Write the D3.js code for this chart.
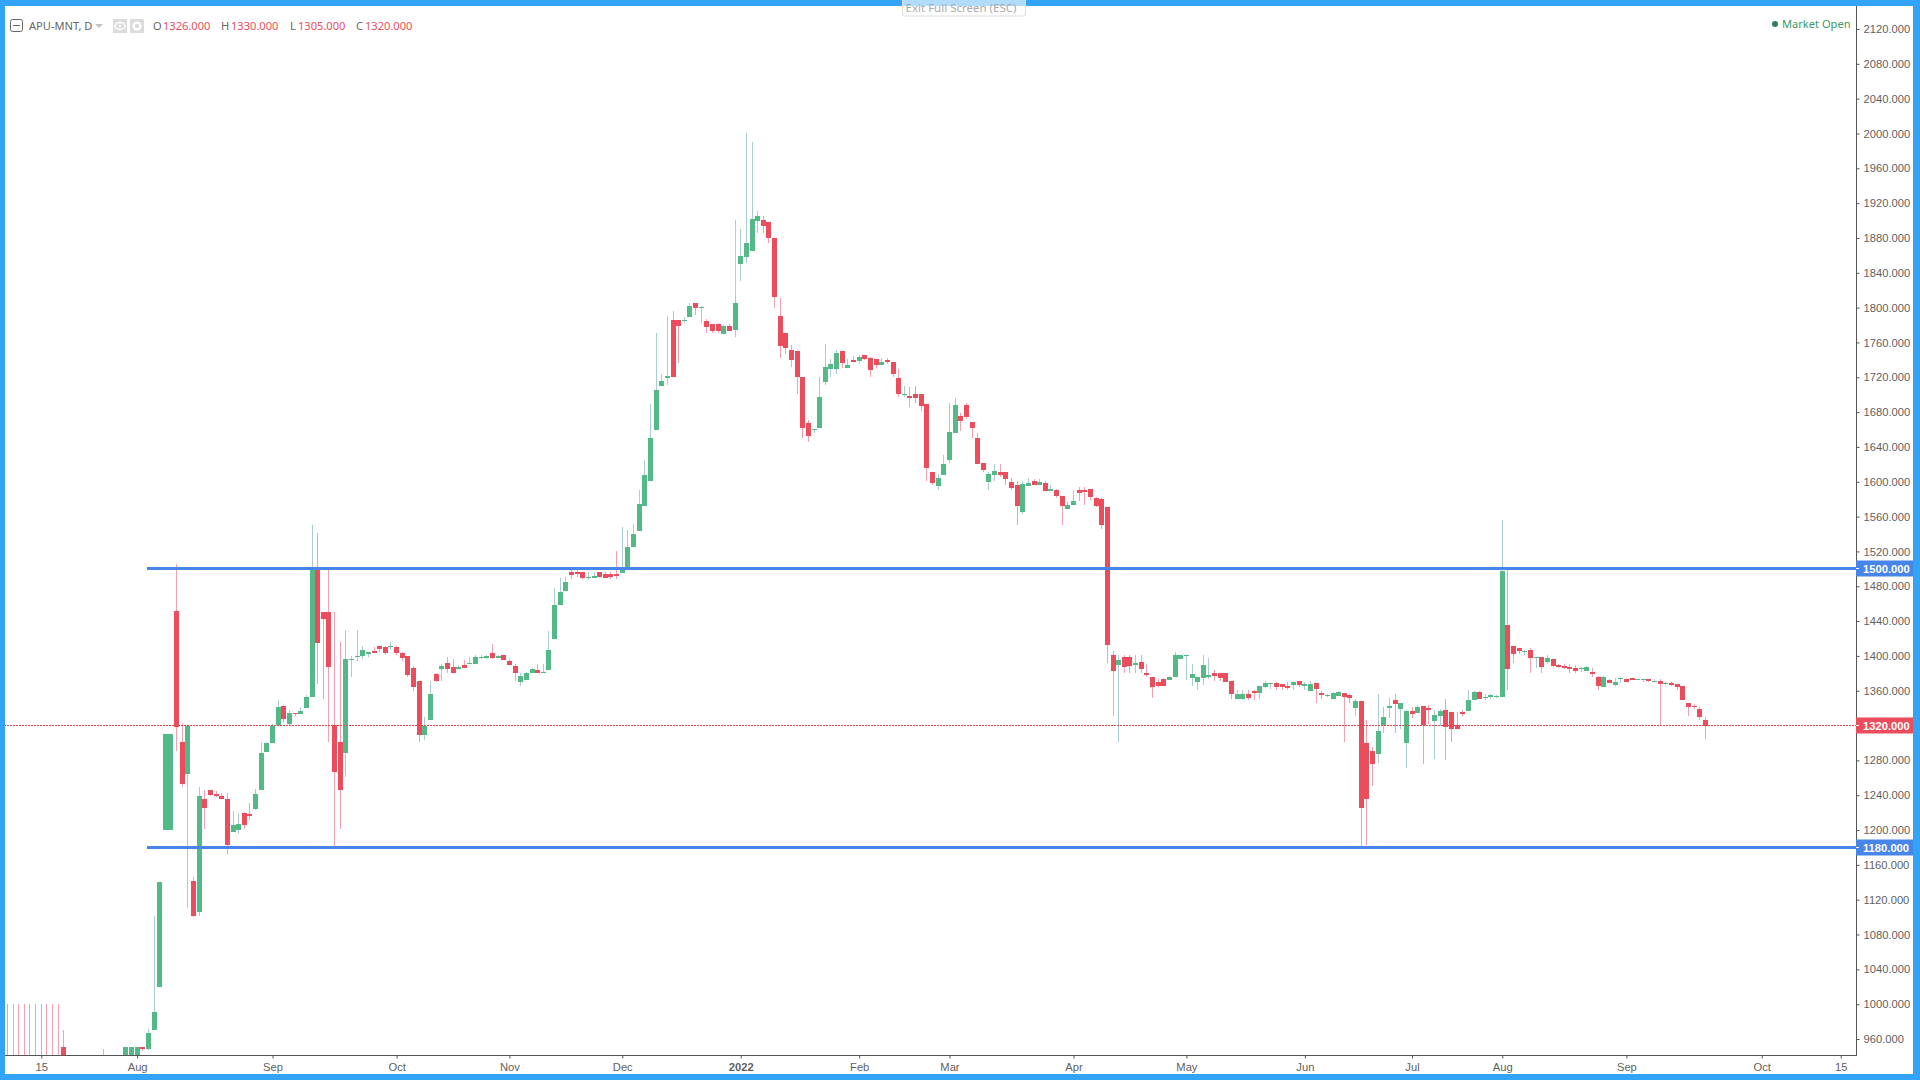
<!DOCTYPE html>
<html><head><meta charset="utf-8">
<script src="https://cdn.jsdelivr.net/npm/d3@7"></script>
<style>html,body{margin:0;padding:0;background:#fff;overflow:hidden}svg{display:block}</style>
</head><body><svg id="c" width="1920" height="1080"></svg>
<script>
const opens=[
900,900,900,900,900,900,900,900,900,900,
950.8,930,930,930,930,930,930,930,930,930,
930,930,930,930,951,948.5,970.3,1020,1200,1200,
1451.6,1301.2,1264.4,1141.5,1105.9,1235.7,1246,1241.5,1239,1235.7,
1197.8,1200.1,1219.6,1218.5,1224.2,1246,1289.7,1300,1320.7,1342.5,
1321.8,1334.5,1333.3,1340.2,1352.9,1501,1450.5,1450.5,1320.7,1301.2,
1288.5,1395.3,1398.8,1400,1402.2,1405.7,1411.4,1410.3,1410.3,1410.3,
1403.4,1400,1386.2,1371.2,1309.2,1326.4,1379.2,1385,1391.8,1387.2,
1385,1389.5,1390.7,1390.7,1397.6,1397.6,1403.3,1397.6,1401,1394.1,
1388.4,1370,1372.3,1380.4,1383.8,1380.4,1383.8,1419.4,1458.4,1474.5,
1496.3,1496.3,1496.3,1489.4,1489.4,1496.3,1494,1494,1494,1495.2,
1499.8,1525,1543,1572,1601,1659.5,1710,1719.2,1785.8,1785.8,
1784.7,1789.3,1805.3,1799.6,1784.7,1781.2,1781.2,1769.7,1778.9,1774.3,
1850.1,1858.2,1865,1899.5,1900.7,1898.4,1880,1790.4,1770.9,1751.4,
1750.2,1720.4,1667.5,1659.5,1661.8,1714.6,1729.5,1729.5,1750.2,1730.7,
1739.9,1738.7,1745.6,1742.2,1741,1734.1,1739.9,1737.6,1719.2,1699.6,
1698.5,1700.8,1700.8,1689.3,1611.2,1595.1,1607.8,1625,1656,1675.5,
1688.2,1668.6,1650.3,1621.6,1599.7,1607.8,1611.2,1611.2,1599.7,1596.3,
1565.3,1595.1,1600.9,1596.3,1598.6,1589.4,1590.5,1583.6,1568.7,1573.3,
1590.5,1590.5,1591.7,1581.3,1580.2,1571,1401,1389.5,1398.7,1398.7,
1389.5,1393,1380.3,1375.7,1370,1373.4,1372.3,1375.7,1396.4,1399.9,
1374.6,1370,1374.6,1375.7,1380.3,1380.3,1380.3,1371.1,1350.5,1350.5,
1356.2,1359.7,1357.4,1364.3,1367.7,1368.8,1367.7,1365.4,1366.6,1371.1,
1365.4,1359.7,1368.8,1357.4,1353.9,1350.5,1353.9,1357.4,1355.1,1340.1,
1348.2,1299.9,1290.8,1287.3,1320.7,1340.2,1349.4,1339,1300,1336.7,
1334.4,1342.5,1340.2,1325.2,1331,1337.9,1335.6,1320.7,1335.6,1336.7,
1349.4,1358.5,1351.7,1352.8,1352.8,1352.9,1435.5,1411.4,1409.1,1404.5,
1406.8,1397.6,1398.8,1393,1396.5,1389.6,1388.5,1387.3,1386.2,1385,
1382.7,1381.6,1375.8,1364.3,1372.4,1366.6,1373.5,1373.5,1374.7,1372.4,
1372.4,1373.5,1370.1,1371.2,1367.8,1368.9,1367.8,1365.5,1346,1342.5,
1339,1326];
const highs=[
1000,1000,1000,1000,1000,1000,1000,1000,1000,1000,
970,930,930,930,930,930,930,948.5,930,930,
930,951,951,951,951,971.5,1101,1140,1310,1310,
1505.6,1322.6,1319.5,1146,1249.5,1246,1246,1245,1242.6,1242.6,
1221.9,1219.6,1220.8,1231,1247.2,1301.2,1301.2,1321.8,1349.4,1343.7,
1337.9,1334.5,1341.4,1355.2,1550.4,1541.2,1450.5,1499.9,1450.5,1416,
1429.8,1400,1429.8,1411.4,1404.5,1410.3,1411.4,1411.4,1416,1411.4,
1404.5,1400,1388.5,1371.2,1329.8,1371.2,1380.4,1390.7,1398.7,1396.4,
1389.5,1395.3,1398.7,1401,1401,1401,1413.6,1401,1401,1396.4,
1390.7,1380.4,1381.5,1386,1390.7,1390.7,1428.6,1478,1489.4,1490.6,
1499.8,1498.6,1496.3,1496.3,1496.3,1496.3,1496.3,1496.3,1520.5,1548,
1545,1552,1590,1625,1689.4,1770.9,1723.8,1790.4,1796.2,1785.8,
1789.3,1805.3,1805.3,1801.9,1787,1781.2,1782.4,1780.1,1781.2,1900.7,
1890.3,2000.6,1990.2,1911,1905.3,1898.4,1880,1811,1770.9,1757.1,
1751.4,1720.4,1671,1660.6,1720.4,1758.3,1741,1751.4,1750.2,1741,
1744.5,1745.6,1745.6,1743.3,1741,1742.2,1742.2,1737.6,1729.5,1710,
1708.8,1710,1700.8,1689.3,1611.2,1608.9,1630.7,1690.4,1696.2,1679,
1690.4,1668.6,1656,1621.6,1611.2,1620.4,1620.4,1611.2,1604.3,1600.9,
1600.9,1604.3,1603.2,1603.2,1600.9,1596.3,1591.7,1583.6,1576.8,1590.5,
1594,1594,1591.7,1582.5,1581.3,1571,1405.6,1401,1401,1401,
1401,1401,1390.7,1375.7,1373.4,1374.6,1376.9,1404.4,1401,1401,
1390.7,1375.7,1401,1397.6,1383.8,1380.3,1380.3,1371.1,1360.8,1360.8,
1360.8,1360.8,1365.4,1371.1,1368.8,1370,1367.7,1370,1371.1,1371.1,
1370,1371.1,1368.8,1359.7,1356.3,1358.5,1359.7,1357.4,1356.3,1350.5,
1348.2,1326.4,1295.4,1356.3,1341.3,1351.7,1356.3,1345.9,1337.9,1341.3,
1343.6,1342.5,1343.6,1337.9,1339,1350.5,1335.6,1335.6,1337.9,1360.8,
1359.7,1359.7,1356.3,1356.3,1355.2,1556.1,1501,1411.4,1409.1,1406.8,
1409.1,1398.8,1398.8,1401,1396.5,1390.8,1390.8,1390.8,1389.6,1387.3,
1388.5,1386.2,1376.9,1376.9,1373.5,1374.7,1374.7,1374.7,1374.7,1373.5,
1373.5,1373.5,1373.5,1373.5,1369.9,1370.1,1367.8,1365.5,1346,1344.8,
1341.4,1330];
const lows=[
900,900,900,900,900,900,900,900,900,900,
920,930,930,930,930,930,930,925,930,930,
930,930,930,930,946,947,970.3,1020,1200,1200,
1290.8,1249.5,1110.5,1100,1101,1201.3,1239,1238,1235.7,1172.6,
1197.8,1195.5,1201.3,1211.6,1223,1246,1289.7,1300,1320.7,1324,
1320.7,1331,1333.3,1340.2,1352.9,1367.8,1350.6,1301.2,1180.6,1201.3,
1261,1375.8,1394.2,1396.5,1398.8,1403.4,1404.5,1401,1406.8,1401,
1394.2,1375.8,1359.8,1301.1,1303.4,1326.4,1370,1371.2,1380.4,1380.4,
1385,1386,1390.7,1390.7,1396.4,1396.4,1396.4,1397.6,1395.3,1389.5,
1371.2,1365.4,1372.3,1380.4,1380.4,1380.4,1383.8,1419.4,1458.4,1474.5,
1488.3,1490.6,1488.3,1487.1,1489.4,1490.6,1489.4,1488.3,1488.3,1495.2,
1499.8,1525,1543,1572,1601,1659.5,1710,1711.2,1720.4,1736.4,
1782.4,1789.3,1791.6,1782.4,1770.9,1770.9,1770.9,1769.7,1773.2,1766.3,
1830.6,1851.3,1865,1885.7,1885.7,1874.2,1799.6,1742.2,1746.8,1731.8,
1700.8,1650.3,1645.7,1656,1661.8,1711.2,1720.4,1723.8,1730.7,1730.7,
1737.6,1735.3,1740,1720.4,1730.7,1734.1,1735.3,1720.4,1697.4,1697.3,
1685.8,1690.4,1681.3,1600.9,1596.3,1590.5,1607.8,1621.6,1656,1658.3,
1672.1,1650.3,1620.4,1611.2,1590.5,1600.9,1605.5,1596.3,1590.5,1550.3,
1563,1595.1,1596.3,1596.3,1589.4,1589.4,1581.3,1550.3,1568.7,1573.3,
1577.9,1573.3,1579,1571,1545.8,1391.9,1331,1301.1,1380.3,1380.3,
1380.3,1380.3,1375.7,1351.6,1364.3,1365.4,1372.3,1375.7,1396.4,1372.3,
1365.4,1360.8,1366.6,1373.4,1371.1,1371.1,1370,1350.5,1350.5,1349.3,
1349.3,1349.3,1350.5,1363,1362,1360.8,1360.8,1360.8,1360.8,1364,
1360.8,1359.7,1345.9,1350.5,1352.7,1350.5,1353.9,1301.1,1345.9,1331,
1180.5,1182.8,1250.6,1277,1311.5,1328.7,1311.5,1316.1,1271.3,1328.7,
1334.4,1275.9,1321.8,1281.6,1319.5,1280.5,1301.1,1316.1,1331,1336.7,
1349.4,1350.5,1349.4,1350.5,1351.3,1352.9,1360.9,1391.9,1402.2,1401,
1380.4,1386.2,1380.4,1390.8,1387.5,1386.2,1385,1380.4,1380.4,1382,
1382.7,1375.8,1360.9,1364.3,1368.9,1365.5,1368.9,1370.1,1372.4,1372.4,
1370,1370,1370.1,1320.7,1366.7,1365.4,1360.9,1349.4,1331,1339,
1326.4,1305];
const closes=[
899,899,899,899,899,899,899,899,899,899,
930,929,929,929,929,929,929,932,929,929,
929,951,951,951,949,967,991,1140,1310,1310,
1318.4,1253,1319.5,1101.3,1239.2,1225.4,1240.3,1239,1235.7,1182.9,
1205.9,1207,1205.9,1216.2,1241.5,1288.5,1300,1319.5,1341.4,1327.6,
1334.5,1333.3,1336.8,1352.9,1499.9,1414.9,1442.4,1387.3,1266.7,1246,
1396.5,1396.5,1400,1406.8,1404.5,1403.4,1408,1403.4,1411.4,1403.4,
1397.6,1378.1,1364.3,1309.2,1319.9,1356.2,1371.2,1388.4,1385,1380.4,
1387.2,1386,1391.8,1398.7,1398.7,1399.9,1397.6,1399.9,1395.3,1389.5,
1380.4,1376.9,1380.4,1385,1380.4,1381.5,1406.8,1458.4,1473.4,1484.9,
1492.9,1494,1489.4,1490.6,1491.7,1490.6,1489.4,1490.6,1491.7,1500.9,
1525,1540,1575,1608,1650,1705.4,1715.8,1721.5,1720.4,1779,
1785.8,1801.9,1799.6,1800.7,1777.8,1773.2,1773.2,1778.9,1773.2,1805.3,
1859.3,1874.2,1901.8,1905.3,1893.8,1880,1812.2,1755.9,1753.6,1739.9,
1720.4,1661.8,1652.6,1660.6,1697.4,1731.8,1735.3,1747.9,1736.4,1734.1,
1737.6,1743.3,1741,1728.4,1734.1,1737.6,1737.6,1723.8,1700.8,1700.8,
1696.2,1696.2,1687,1615.8,1598.6,1604.3,1620.4,1657.1,1688.2,1669.8,
1674.4,1661.7,1620.4,1613.5,1608.9,1612.4,1607.8,1603.2,1592.8,1572.2,
1597.4,1598.6,1596.3,1599.7,1589.4,1591.7,1583.6,1572.2,1573.3,1577.9,
1587.1,1588.2,1582.5,1572.2,1550.3,1412.5,1382.6,1395.3,1387.2,1388.4,
1391.8,1384.9,1378,1364.3,1365.4,1365.4,1375.7,1401,1401,1401,
1379.2,1375.7,1389.5,1378,1376.9,1374.6,1370,1356.2,1356.2,1356.2,
1351.6,1357.4,1365.4,1368.8,1368.8,1364.3,1364.3,1363.1,1370,1366.6,
1367.7,1367.7,1362,1355.1,1355.1,1357.4,1358.5,1352.8,1351.6,1348.2,
1225.3,1235.6,1275.9,1313.8,1329.8,1342.5,1344.8,1345.9,1336.7,1333.3,
1341.3,1320.3,1337.9,1332.1,1336.7,1318.4,1316.1,1316.1,1333.3,1349.4,
1358.5,1350.5,1352.8,1355.1,1354,1497.6,1385,1402.2,1405.7,1405.7,
1397.6,1398.8,1387.3,1397.6,1388.5,1387.3,1386.2,1385,1382.7,1386.2,
1387.3,1379.3,1365.5,1375.8,1368.9,1370.1,1374.7,1370.1,1372.4,1373.5,
1373.5,1371.2,1371.2,1367.8,1368.9,1366.6,1364.3,1349.4,1341.4,1341.4,
1329.9,1320];
const priceTicks=[960,1000,1040,1080,1120,1160,1200,1240,1280,1320,1360,1400,1440,1480,1520,1560,1600,1640,1680,1720,1760,1800,1840,1880,1920,1960,2000,2040,2080,2120].filter(v=>v!==1320);
const timeTickIdx=[6,23,47,69,89,109,130,151,167,189,209,230,249,265,287,311,325];
const timeTickLabels=["15","Aug","Sep","Oct","Nov","Dec","2022","Feb","Mar","Apr","May","Jun","Jul","Aug","Sep","Oct","15"];
const levels=[1500,1180];
const lastPrice=1320;
const ohlcLabels=[["O","1326.000"],["H","1330.000"],["L","1305.000"],["C","1320.000"]];

const UP="#53b987",DOWN="#eb4d5c",UPW="#a8ccd0",DOWNW="#f79fae",BLUE="#4785e8",FRAME="#33a3f5",AX="#555";
const svg=d3.select("#c");
const x=d3.scaleLinear().domain([0,327]).range([7.4,7.4+327*5.641]);
const y=d3.scaleLinear().domain([2120,960]).range([29,1039]);
const L=5,T=6,R=1856,B=1055;
svg.append("defs").append("clipPath").attr("id","plot").append("rect").attr("x",L).attr("y",T).attr("width",R-L).attr("height",B-T);

const data=opens.map((o,i)=>({i,o,h:highs[i],l:lows[i],c:closes[i]}));
const g=svg.append("g").attr("clip-path","url(#plot)").attr("shape-rendering","crispEdges");
const px=d=>Math.floor(x(d.i));
g.selectAll("rect.w").data(data).join("rect").attr("class","w")
 .attr("x",px).attr("width",1)
 .attr("y",d=>Math.round(y(d.h))).attr("height",d=>Math.max(1,Math.round(y(d.l))-Math.round(y(d.h))))
 .attr("fill",d=>d.c>=d.o?UPW:DOWNW);
g.selectAll("rect.b").data(data).join("rect").attr("class","b")
 .attr("x",d=>px(d)-2).attr("width",5)
 .attr("y",d=>Math.round(y(Math.max(d.o,d.c))))
 .attr("height",d=>Math.max(1,Math.round(y(Math.min(d.o,d.c)))-Math.round(y(Math.max(d.o,d.c)))))
 .attr("fill",d=>d.c>=d.o?UP:DOWN);

svg.append("line").attr("x1",1).attr("x2",R).attr("y1",Math.floor(y(lastPrice))+.5).attr("y2",Math.floor(y(lastPrice))+.5)
 .attr("stroke","#e0434f").attr("stroke-dasharray","2,1").attr("stroke-width",1);
svg.append("g").selectAll("line").data(levels).join("line")
 .attr("x1",147).attr("x2",R).attr("y1",d=>Math.floor(y(d))+.5).attr("y2",d=>Math.floor(y(d))+.5)
 .attr("stroke",BLUE).attr("stroke-width",3);

// axes
const ya=svg.append("g").attr("transform",`translate(${R+.5},0)`)
 .call(d3.axisRight(y).tickValues(priceTicks).tickFormat(d3.format(".3f")).tickSize(3).tickSizeOuter(0).tickPadding(4));
ya.select(".domain").remove();
const xa=svg.append("g").attr("transform",`translate(0,${B+.5})`)
 .call(d3.axisBottom(x).tickValues(timeTickIdx).tickFormat((d,i)=>timeTickLabels[i]).tickSize(3).tickSizeOuter(0).tickPadding(5));
xa.select(".domain").remove();
[ya,xa].forEach(a=>{a.selectAll("line").attr("stroke",AX);a.selectAll("text").attr("fill","#5f5f5f").style("font","11.2px 'Liberation Sans',Arial,sans-serif");});
xa.selectAll("text").filter((d,i)=>timeTickLabels[i]==="2022").style("font-weight","bold");
svg.append("line").attr("x1",R+.5).attr("x2",R+.5).attr("y1",T).attr("y2",B+1).attr("stroke",AX).attr("stroke-width",1);
svg.append("line").attr("x1",L).attr("x2",R+1).attr("y1",B+.5).attr("y2",B+.5).attr("stroke",AX).attr("stroke-width",1);

// price labels
const tags=[[1500,BLUE],[1180,BLUE],[lastPrice,DOWN]];
tags.forEach(([v,col])=>{
  const cy=Math.floor(y(v))+.5;
  svg.append("rect").attr("x",R).attr("y",cy-8).attr("width",1913-R).attr("height",16).attr("fill",col);
  svg.append("line").attr("x1",R).attr("x2",R+3).attr("y1",cy).attr("y2",cy).attr("stroke","#fff");
  svg.append("text").attr("x",1863).attr("y",cy+4).attr("fill","#fff").style("font","bold 11.2px 'Liberation Sans',Arial,sans-serif").text(d3.format(".3f")(v));
});

// frame
[[0,0,1920,T],[0,0,L,1080],[1913,0,7,1080],[0,1074,1920,6]].forEach(r=>svg.append("rect").attr("x",r[0]).attr("y",r[1]).attr("width",r[2]).attr("height",r[3]).attr("fill",FRAME));

// header
const hf="11.1px 'Noto Sans',sans-serif";
svg.append("rect").attr("x",10.5).attr("y",19.5).attr("width",12).attr("height",12).attr("rx",2).attr("fill","none").attr("stroke","#666");
svg.append("line").attr("x1",13).attr("x2",20).attr("y1",25.5).attr("y2",25.5).attr("stroke","#666");
svg.append("text").attr("x",29).attr("y",30).attr("fill","#666").style("font",hf).text("APU-MNT, D");
svg.append("path").attr("d","M95 24 h8 l-4 4 z").attr("fill","#c4c4c4");
[113,130].forEach(a=>svg.append("rect").attr("x",a).attr("y",19).attr("width",14).attr("height",14).attr("fill","#dcdcdc"));
svg.append("ellipse").attr("cx",120).attr("cy",26).attr("rx",5).attr("ry",3.5).attr("fill","none").attr("stroke","#fff").attr("stroke-width",1.5);
svg.append("circle").attr("cx",120).attr("cy",26).attr("r",1.3).attr("fill","#fff");
svg.append("circle").attr("cx",137).attr("cy",26).attr("r",3.4).attr("fill","none").attr("stroke","#fff").attr("stroke-width",2.4);
const lx=[153,221,290,356],vx=[163,231,298,365];
ohlcLabels.forEach((d,i)=>{
  svg.append("text").attr("x",lx[i]).attr("y",30).attr("fill","#666").style("font",hf).text(d[0]);
  svg.append("text").attr("x",vx[i]).attr("y",30).attr("fill",DOWN).style("font",hf).text(d[1]);
});
svg.append("circle").attr("cx",1775).attr("cy",24).attr("r",3).attr("fill","#2f8059");
svg.append("text").attr("x",1782).attr("y",28).attr("fill","#3a9a68").style("font",hf).text("Market Open");

// exit full screen hint
svg.append("rect").attr("x",902.5).attr("y",-3).attr("width",123).attr("height",19).attr("rx",2).attr("fill","#fff").attr("fill-opacity",.62).attr("stroke","#ddd");
svg.append("text").attr("x",961).attr("y",12).attr("text-anchor","middle").attr("fill","#ababab").style("font","11.5px 'Noto Sans',sans-serif").text("Exit Full Screen (ESC)");
</script></body></html>
